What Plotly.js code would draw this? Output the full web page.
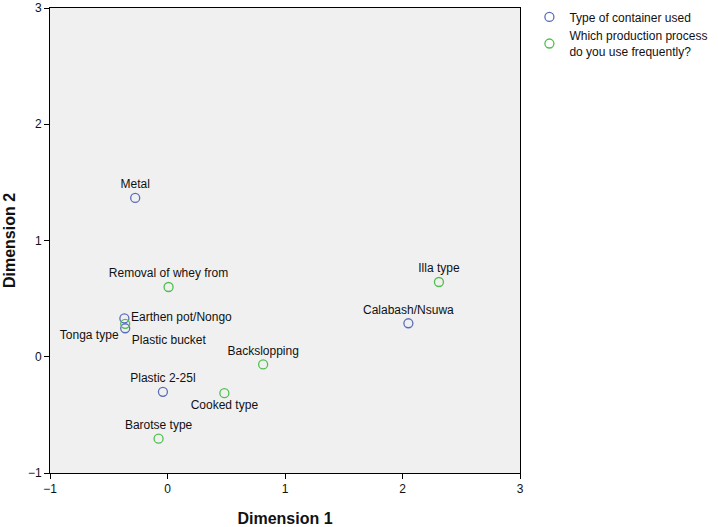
<!DOCTYPE html>
<html><head><meta charset="utf-8">
<script src="https://cdn.plot.ly/plotly-3.0.1.min.js"></script>
<style>body{margin:0;background:#fff}#c{width:718px;height:527px}</style>
</head><body><div id="c"></div>
<script>
const containerLabels = ["Metal", "Calabash/Nsuwa", "Earthen pot/Nongo", "Plastic bucket", "Plastic 2-25l"];
const containerX = [-0.275, 2.05, -0.367, -0.36, -0.039];
const containerY = [1.366, 0.288, 0.33, 0.245, -0.302];
const containerPos = ["top center", "top center", "middle right", "bottom right", "top center"];

const processLabels = ["Removal of whey from", "Illa type", "Tonga type", "Backslopping", "Cooked type", "Barotse type"];
const processX = [0.009, 2.31, -0.36, 0.814, 0.484, -0.076];
const processY = [0.60, 0.643, 0.283, -0.066, -0.313, -0.705];
const processPos = ["top center", "top center", "bottom left", "top center", "bottom center", "top center"];

const seriesNames = ["Type of container used", "Which production process<br>do you use frequently?"];

const font = "Liberation Sans, Arial, sans-serif";
const traces = [
  {x: containerX, y: containerY, text: containerLabels, textposition: containerPos, name: seriesNames[0],
   mode: "markers+text", type: "scatter",
   marker: {symbol: "circle-open", size: 9, color: "#5b6cbd", line: {width: 1.3}},
   textfont: {family: font, size: 12, color: "#111"}},
  {x: processX, y: processY, text: processLabels, textposition: processPos, name: seriesNames[1],
   mode: "markers+text", type: "scatter",
   marker: {symbol: "circle-open", size: 9, color: "#4fbf4f", line: {width: 1.3}},
   textfont: {family: font, size: 12, color: "#111"}}
];
const layout = {
  width: 718, height: 527,
  margin: {l: 50, r: 198, t: 8, b: 54, autoexpand: false},
  paper_bgcolor: "#ffffff", plot_bgcolor: "#f0f0f0",
  font: {family: font, size: 12, color: "#111"},
  showlegend: true,
  legend: {x: 1.02, y: 1.012, xanchor: "left", yanchor: "top", bgcolor: "rgba(0,0,0,0)",
           font: {family: font, size: 12, color: "#111"}, itemwidth: 30, tracegroupgap: 0},
  xaxis: {range: [-1, 3], tickvals: [-1, 0, 1, 2, 3], showgrid: false, zeroline: false,
          showline: true, linecolor: "#000", linewidth: 1, mirror: true,
          ticks: "outside", ticklen: 5, tickcolor: "#000", ticklabeloverflow: "allow",
          tickfont: {family: font, size: 12, color: "#111"},
          title: {text: "<b>Dimension 1</b>", font: {family: font, size: 16, color: "#111"}, standoff: 18}},
  yaxis: {range: [-1, 3], tickvals: [-1, 0, 1, 2, 3], showgrid: false, zeroline: false,
          showline: true, linecolor: "#000", linewidth: 1, mirror: true,
          ticks: "outside", ticklen: 5, tickcolor: "#000", ticklabeloverflow: "allow",
          tickfont: {family: font, size: 12, color: "#111"},
          title: {text: "<b>Dimension 2</b>", font: {family: font, size: 16, color: "#111"}, standoff: 8}}
};
Plotly.newPlot("c", traces, layout, {displayModeBar: false, staticPlot: true});
</script></body></html>
